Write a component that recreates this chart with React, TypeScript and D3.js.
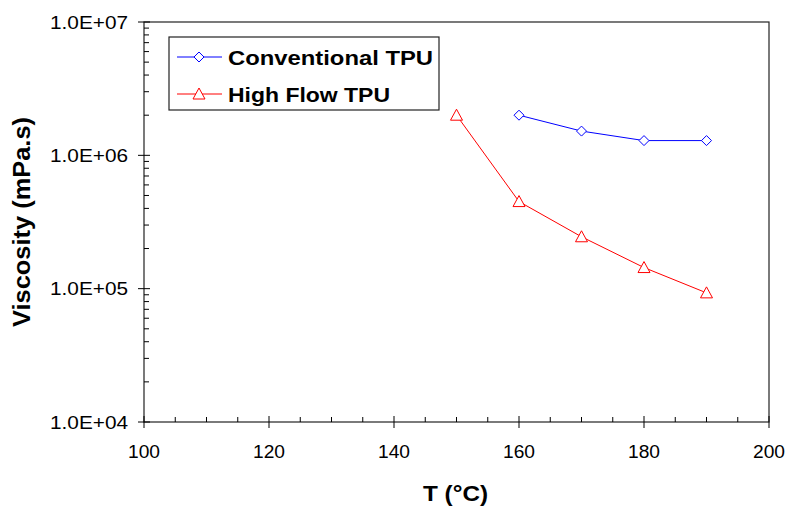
import React from "react"
import * as d3 from "d3"

const temps = [150, 160, 170, 180, 190]
const conventional = [null, 2.0e6, 1.52e6, 1.29e6, 1.29e6]
const highFlow = [2.0e6, 4.5e5, 2.45e5, 1.44e5, 9.3e4]
const xTicks = [100, 120, 140, 160, 180, 200]
const yTicks = [1e4, 1e5, 1e6, 1e7]
const yTickLabels = ["1.0E+04", "1.0E+05", "1.0E+06", "1.0E+07"]

const W = 788
const H = 506
const left = 144
const right = 769
const top = 22
const bottom = 422
const font = "'Liberation Sans', Arial, sans-serif"

export default function App() {
  const x = d3.scaleLinear().domain([100, 200]).range([left, right])
  const y = d3.scaleLog().domain([1e4, 1e7]).range([bottom, top])

  const conv = temps.map((t, i) => [t, conventional[i]]).filter(d => d[1] != null) as [number, number][]
  const hf = temps.map((t, i) => [t, highFlow[i]]) as [number, number][]

  const line = d3.line<[number, number]>().x(d => x(d[0])).y(d => y(d[1]))

  const minorX = d3.range(100, 201, 5).filter(v => v % 20 !== 0)
  const minorY: number[] = []
  for (let e = 4; e < 7; e++) for (let k = 2; k <= 9; k++) minorY.push(k * Math.pow(10, e))

  const diamond = (cx: number, cy: number, key: string) => (
    <path key={key} d={`M${cx},${cy - 5}L${cx + 5},${cy}L${cx},${cy + 5}L${cx - 5},${cy}Z`}
      fill="white" stroke="#0000ff" strokeWidth={1} />
  )
  const triangle = (cx: number, cy: number, key: string) => (
    <path key={key} d={`M${cx},${cy - 6}L${cx + 6},${cy + 5}L${cx - 6},${cy + 5}Z`}
      fill="white" stroke="#ff0000" strokeWidth={1} />
  )

  return (
    <svg width={W} height={H} style={{ position: "absolute", left: 0, top: 0 }} fontFamily={font}>
      <rect width={W} height={H} fill="white" />
      {/* frame */}
      <rect x={left} y={top} width={right - left} height={bottom - top} fill="none" stroke="#222" strokeWidth={1.2} />

      {/* y ticks */}
      {yTicks.map(v => (
        <line key={"yt" + v} x1={left - 6} x2={left + 6} y1={y(v)} y2={y(v)} stroke="#000" />
      ))}
      {minorY.map(v => (
        <line key={"ym" + v} x1={left} x2={left + 5} y1={y(v)} y2={y(v)} stroke="#000" />
      ))}
      {yTicks.map((v, i) => (
        <text key={"yl" + v} x={128} y={y(v) + 6.5} textAnchor="end" fontSize={18}
          textLength={78} lengthAdjust="spacingAndGlyphs">{yTickLabels[i]}</text>
      ))}

      {/* x ticks */}
      {xTicks.map(v => (
        <line key={"xt" + v} x1={x(v)} x2={x(v)} y1={bottom - 6} y2={bottom + 6} stroke="#000" />
      ))}
      {minorX.map(v => (
        <line key={"xm" + v} x1={x(v)} x2={x(v)} y1={bottom - 5} y2={bottom} stroke="#000" />
      ))}
      {xTicks.map(v => (
        <text key={"xl" + v} x={x(v)} y={458} textAnchor="middle" fontSize={18}
          textLength={32} lengthAdjust="spacingAndGlyphs">{v}</text>
      ))}

      {/* axis titles */}
      <text x={455.5} y={501} textAnchor="middle" fontSize={22} fontWeight="bold"
        textLength={65} lengthAdjust="spacingAndGlyphs">T (°C)</text>
      <text transform="translate(30,222) rotate(-90)" textAnchor="middle" fontSize={24} fontWeight="bold"
        textLength={210} lengthAdjust="spacingAndGlyphs">Viscosity (mPa.s)</text>

      {/* series */}
      <path d={line(conv) || ""} fill="none" stroke="#0000ff" strokeWidth={1} />
      <path d={line(hf) || ""} fill="none" stroke="#ff0000" strokeWidth={1} />
      {conv.map(d => diamond(x(d[0]), y(d[1]), "c" + d[0]))}
      {hf.map(d => triangle(x(d[0]), y(d[1]), "h" + d[0]))}

      {/* legend */}
      <rect x={169} y={37} width={270} height={73} fill="white" stroke="#222" strokeWidth={1.2} />
      <line x1={177} x2={222} y1={57} y2={57} stroke="#0000ff" />
      {diamond(199, 57, "ld")}
      <text x={228} y={64.5} fontSize={21} fontWeight="bold" textLength={205} lengthAdjust="spacingAndGlyphs">Conventional TPU</text>
      <line x1={177} x2={222} y1={94} y2={94} stroke="#ff0000" />
      {triangle(199, 94, "lt")}
      <text x={228} y={101.5} fontSize={21} fontWeight="bold" textLength={162} lengthAdjust="spacingAndGlyphs">High Flow TPU</text>
    </svg>
  )
}
